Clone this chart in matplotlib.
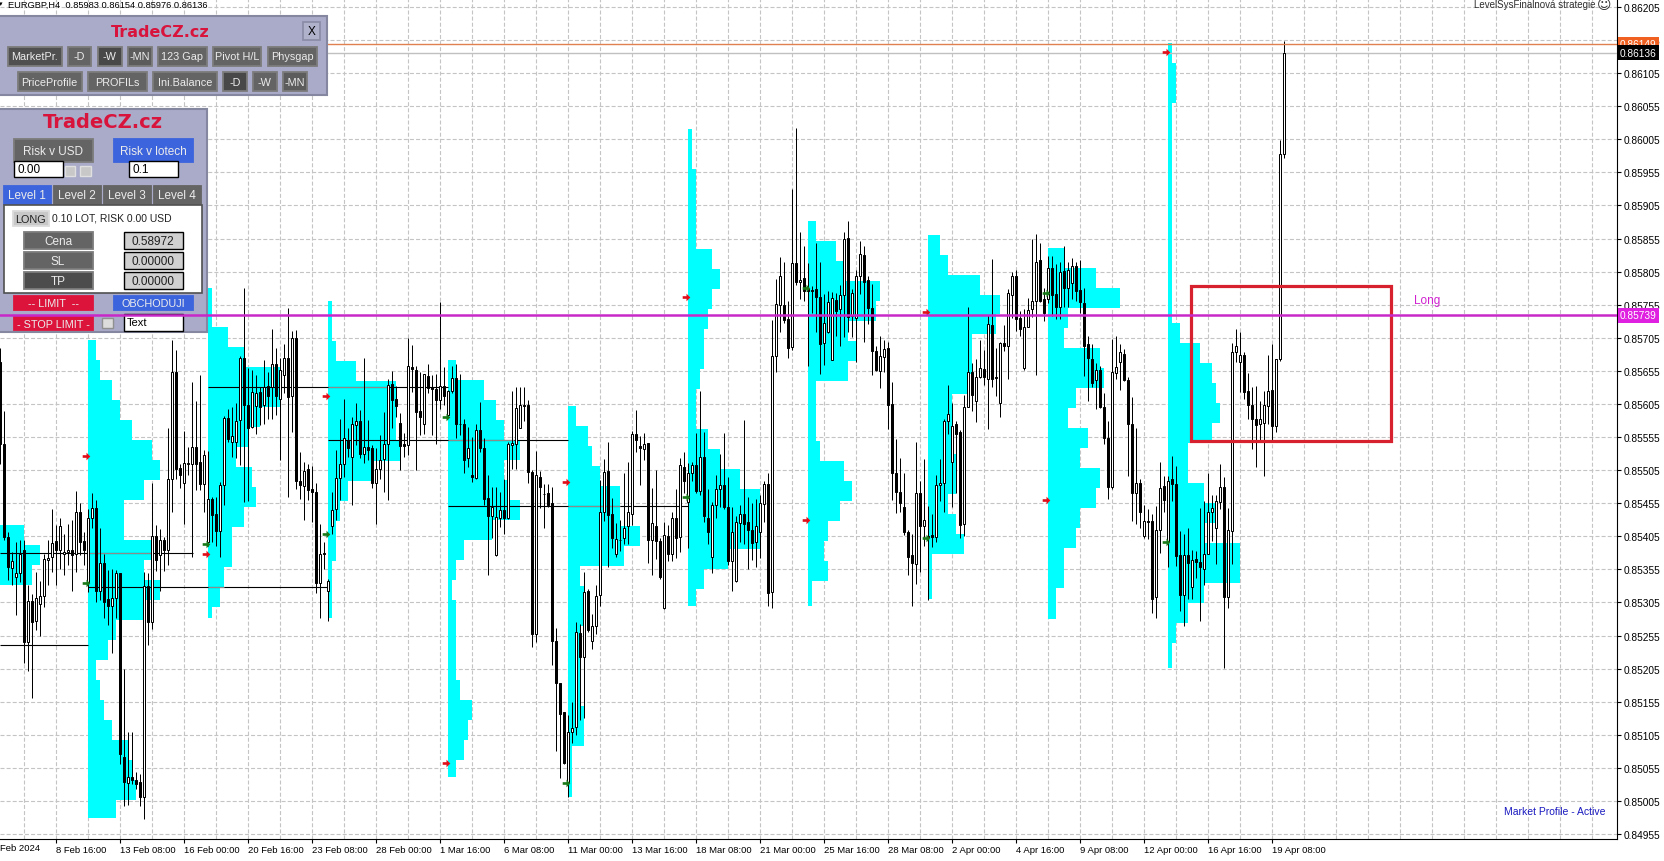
import numpy as np
import matplotlib
matplotlib.use("Agg")
import matplotlib.pyplot as plt
from matplotlib.markers import MarkerStyle
from matplotlib.path import Path
from matplotlib.patches import Rectangle
from matplotlib.transforms import Affine2D

plt.rcParams['font.family'] = ['Liberation Sans', 'DejaVu Sans']

# EURGBP H4 candles, in points above 0.85000, one value per bar
opens = [
    668,544,404,357,344,349,384,246,307,277, 302,315,369,374,398,385,378,382,384,378,
    442,398,336,433,448,323,364,310,299,312, 350,72,32,41,36,33,11,330,276,406,
    376,399,384,492,654,508,486,515,515,540, 517,484,397,462,438,413,483,584,548,548,
    581,674,604,570,602,623,604,632,631,665, 612,649,674,617,705,489,481,506,477,472,
    335,380,323,421,446,493,514,550,525,573, 580,529,540,538,486,506,522,544,635,612,
    576,544,543,661,657,595,574,648,631,628, 611,632,588,624,644,575,575,524,498,493,
    566,538,463,435,376,433,444,432,543,544, 569,604,604,502,257,495,469,471,455,247,
    184,140,34,110,117,259,223,323,247,270, 316,442,503,438,379,399,403,420,439,559,
    542,537,546,399,421,398,296,406,379,432, 404,510,457,501,513,473,525,433,374,452,
    476,482,450,368,338,425,439,426,415,396, 412,454,484,321,678,755,754,734,691,818,
    789,795,778,777,779,766,697,713,672,762, 748,769,856,738,735,799,830,793,750,685,
    655,676,689,605,501,472,449,412,376,363, 471,421,406,407,404,482,485,580,518,575,
    562,424,601,654,609,645,658,643,724,645, 607,697,692,770,799,735,660,722,749,760,
    823,763,763,811,771,752,806,781,788,813, 777,758,695,673,641,657,601,553,479,652,
    669,681,641,575,470,486,405,428,428,313, 415,481,398,491,484,376,316,376,329,370,
    366,356,379,441,418,457,480,313,413,684, 669,679,624,604,582,574,576,602,626,571,
    673,983]
highs = [
    689,595,412,381,397,399,399,331,318,351, 337,379,399,447,422,433,409,424,429,474,
    456,412,447,470,460,418,379,354,356,354, 350,205,109,109,49,46,351,349,486,422,
    416,404,568,702,686,515,564,540,638,610, 649,535,534,465,465,487,587,598,601,606,
    678,781,659,656,649,631,671,654,718,689, 674,696,750,715,717,533,517,515,511,486,
    424,397,341,472,535,582,613,569,586,607, 596,674,581,543,538,558,593,643,655,632,
    591,561,704,694,663,653,651,665,649,651, 759,661,626,663,666,651,583,570,555,575,
    608,554,497,480,480,472,492,548,624,631, 631,631,611,505,534,504,484,484,480,267,
    184,140,135,155,275,273,351,326,288,332, 490,522,548,463,425,430,500,517,564,596,
    556,561,546,478,505,403,427,422,441,477, 523,533,516,517,561,625,563,477,457,497,
    530,561,495,450,435,452,581,465,455,462, 467,489,500,732,794,827,820,760,930,1022,
    865,843,818,784,848,819,771,776,774,773, 785,865,882,779,807,852,844,799,786,693,
    707,701,699,638,552,524,501,414,408,547, 489,522,451,439,498,522,583,633,607,580,
    565,618,751,667,673,701,686,739,824,689, 699,724,779,805,807,746,748,765,855,862,
    848,781,829,828,816,819,844,819,826,819, 823,781,708,695,667,662,622,579,703,707,
    695,688,645,616,568,491,453,446,438,451, 517,496,496,526,511,413,408,417,385,383,
    448,458,500,468,468,514,494,448,697,719, 713,684,652,630,632,610,625,679,695,673,
    1004,1154]
lows = [
    515,400,339,331,286,336,213,201,160,263, 255,298,331,351,331,356,346,361,323,351,
    376,361,321,417,306,308,281,271,228,281, 61,-2,-1,31,23,-2,-22,240,265,352,
    323,352,361,442,492,478,424,497,374,475, 475,442,391,397,391,374,452,548,525,523,
    512,457,458,568,560,573,575,583,583,588, 520,621,465,563,476,461,429,460,426,320,
    282,356,277,408,429,460,495,525,453,543, 523,516,520,478,423,492,472,460,569,586,
    505,525,528,623,505,558,559,621,558,544, 597,603,586,621,553,558,501,509,487,491,
    533,452,346,402,375,419,409,431,506,507, 568,579,485,238,245,448,417,450,211,80,
    39,61,11,92,105,127,130,260,234,257, 299,428,358,388,374,383,393,394,422,533,
    482,520,364,347,371,340,295,368,368,372, 381,471,387,488,471,467,427,394,349,433,
    450,447,362,322,336,396,394,355,369,358, 372,427,300,297,654,713,728,674,687,785,
    764,761,663,743,713,650,664,712,671,707, 692,706,713,706,669,771,699,726,649,655,
    629,654,567,460,440,441,407,347,299,333, 351,391,309,389,397,459,442,560,449,471,
    403,406,600,595,577,644,633,567,630,617, 586,685,643,735,716,707,657,721,736,649,
    759,731,758,738,733,734,751,751,763,761, 743,647,610,630,598,599,544,462,477,642,
    626,640,496,428,423,418,403,401,289,281, 380,441,358,458,360,292,269,310,310,342,
    277,331,378,398,363,446,206,296,363,668, 623,612,582,537,509,551,496,574,549,562,
    670,976]
closes = [
    544,404,359,367,349,379,246,307,276,312, 315,371,372,395,385,421,382,385,376,442,
    397,385,433,448,323,365,306,299,312,350, 76,34,41,37,31,11,330,276,406,369,
    399,385,492,653,506,497,516,516,540,515, 484,528,462,437,413,483,584,552,557,579,
    674,604,569,623,622,601,631,617,666,617, 656,674,616,705,488,483,504,475,472,334,
    379,378,338,445,493,514,554,539,574,579, 530,540,535,485,507,521,544,633,611,602,
    541,541,663,658,593,586,650,629,627,611, 632,617,624,644,574,574,520,538,494,566,
    539,461,435,449,434,444,432,545,546,599, 603,602,502,258,497,479,469,453,247,183,
    137,62,110,115,261,223,321,263,270,315, 442,502,437,403,401,400,418,441,559,551,
    539,544,399,425,398,343,407,379,433,403, 512,488,501,513,473,525,435,412,452,476,
    482,450,368,412,427,439,423,414,395,421, 455,484,320,678,756,798,732,689,818,789,
    793,775,775,775,766,695,727,759,765,745, 770,855,736,773,799,832,790,750,685,657,
    677,688,604,501,472,456,411,373,364,471, 420,429,404,404,482,485,580,590,572,560,
    422,601,654,619,645,659,645,726,642,644, 697,693,773,799,734,718,722,747,761,820,
    761,742,811,770,751,805,781,808,813,776, 759,693,674,637,657,600,553,479,654,661,
    683,641,575,471,486,442,428,427,310,414, 478,460,489,484,375,316,376,365,369,366,
    358,379,441,448,458,480,313,414,684,692, 679,623,603,582,573,583,603,624,571,673,
    983,1136]

# market profiles: first bar of each, top and bottom in points, row lengths in bars
pr_start = [0, 22, 52, 82, 112, 142, 172, 202, 232, 262, 292]
pr_top = [422, 701, 781, 761, 671, 602, 1020, 881, 861, 840, 1150]
pr_low = [332, -20, 281, 281, 41, 11, 300, 300, 310, 280, 206]
pr_rows = [
    [6, 10, 8],
    [2, 3, 6, 8, 11, 16, 18, 14, 9, 9, 16, 14, 18, 14, 7, 5, 2, 3, 4, 6, 10, 11, 12, 7],
    [1, 1, 5, 9, 18, 18, 13, 10, 7, 11, 12, 9, 6, 6, 4, 3, 1],
    [1, 1, 2, 7, 17, 17, 17, 18, 11, 5, 3, 2, 2, 1, 1, 1],
    [2, 9, 12, 14, 18, 14, 15, 18, 11, 4, 2, 1, 2, 2, 2, 2, 3, 6, 5, 4, 2],
    [2, 5, 6, 8, 13, 13, 18, 14, 3, 4, 4, 3, 3, 3, 3, 4, 4, 1, 1, 1],
    [1, 1, 2, 2, 2, 2, 6, 8, 6, 5, 4, 4, 3, 2, 2, 5, 8, 13, 18, 18, 18, 10, 4, 2],
    [2, 7, 9, 18, 17, 10, 12, 10, 2, 2, 2, 3, 9, 11, 8, 5, 4, 5, 1, 1],
    [3, 5, 13, 18, 17, 11, 11, 10, 6, 6, 6, 7, 7, 5, 7, 9, 1, 1, 1],
    [4, 12, 18, 5, 4, 13, 14, 7, 5, 10, 8, 13, 12, 8, 7, 4, 4, 2, 2],
    [1, 2, 2, 1, 1, 1, 1, 1, 1, 1, 1, 1, 1, 1, 3, 8, 11, 12, 13, 11, 5, 5, 9, 12, 9, 18, 18, 9, 5, 2, 1, 1],
]

# naked point of control lines: level, first bar, last bar
poc_level = [380, 241, 329, 631, 551, 451]
poc_from = [0, 0, 22, 52, 82, 112]
poc_to = [48.25, 22, 82, 112, 142, 172]
# the stretch where each line runs over the next profile shows grey
poc_grey_level = [380, 329, 631, 551, 451]
poc_grey_from = [22, 52, 82, 112, 142]
poc_grey_to = [38, 56, 97, 128.6, 155]

# arrows sit just left of each profile
red_x = [21.4, 51.4, 81.4, 111.4, 141.4, 171.4, 201.4, 231.4, 261.4, 291.4]
red_y = [527, 379, 617, 62, 487, 767, 429, 744, 460, 1137]
green_x = [21.4, 51.4, 81.4, 111.4, 141.4, 171.4, 201.4, 231.4, 261.4, 291.4]
green_y = [334, 393, 408, 585, 32, 464, 781, 403, 772, 397]

time_labels = ['8 Feb 16:00', '13 Feb 08:00', '16 Feb 00:00', '20 Feb 16:00', '23 Feb 08:00',
               '28 Feb 00:00', '1 Mar 16:00', '6 Mar 08:00', '11 Mar 00:00', '13 Mar 16:00',
               '18 Mar 08:00', '21 Mar 00:00', '25 Mar 16:00', '28 Mar 08:00', '2 Apr 00:00',
               '4 Apr 16:00', '9 Apr 08:00', '12 Apr 00:00', '16 Apr 16:00', '19 Apr 08:00']
price_ticks = [0.86205 - 0.0005 * i for i in range(26)]

entry_price = 0.85739
last_price = 0.86136
ask_price = 0.86149
box_bars = [297.7, 347.65]
box_prices = [0.85549, 0.85784]


def price(pts):
    return 0.85 + np.asarray(pts) / 1e5


fig = plt.figure(figsize=(16.64, 8.62), dpi=100, facecolor='white')
ax = fig.add_axes([0, 22.5 / 862, 1617 / 1664, 839.5 / 862])
ax.set_xlim(0, 1617 / 4)
ax.set_ylim(0.849483, 0.86217)
ax.set_axisbelow(True)
ax.spines['top'].set_visible(False)
ax.spines['left'].set_visible(False)

# pixel coordinates for the panels, y going down
px = Affine2D().scale(1, -1).translate(0, 862)

ax.set_xticks([14 + 16 * i for i in range(20)])
ax.set_xticklabels(time_labels, ha='left', fontsize=6.8)
ax.set_xticks([6 + 8 * i for i in range(50)], minor=True)
ax.yaxis.tick_right()
ax.set_yticks(price_ticks)
ax.set_yticklabels(['%.5f' % p for p in price_ticks], fontsize=7.3)
ax.tick_params(axis='x', which='major', length=3, width=0.8, pad=2)
ax.tick_params(axis='x', which='minor', length=0)
ax.tick_params(axis='y', length=3, width=0.8, pad=2)
ax.grid(True, which='both', color='#c4c4c4', linewidth=0.8, linestyle=(0, (3.6, 1.9)))

# market profile rows
for start, top, low, rows in zip(pr_start, pr_top, pr_low, pr_rows):
    for i, w in enumerate(rows):
        y1 = top - 30.2 * i
        y0 = max(y1 - 30.2, low)
        ax.barh(price(y0), w, height=price(y1) - price(y0), left=start, align='edge',
                color='#00ffff', linewidth=0, zorder=2)

ax.hlines(price(poc_level), poc_from, poc_to, color='black', linewidth=0.8, zorder=3)
ax.hlines(price(poc_grey_level), poc_grey_from, poc_grey_to, color='#8c8c8c', linewidth=0.8, zorder=3.1)

# candles
o = np.array(opens)
h = np.array(highs)
l = np.array(lows)
c = np.array(closes)
bars = np.arange(len(o)) + 0.08
wicks = ax.vlines(bars, price(l), price(h), color='black', linewidth=0.72, zorder=4)
wicks.set_snap(True)
up = c >= o
ax.bar(bars[up], price(c[up]) - price(o[up]), bottom=price(o[up]), width=0.5,
       facecolor='white', edgecolor='black', linewidth=0.72, zorder=5)
ax.bar(bars[~up], price(o[~up]) - price(c[~up]), bottom=price(c[~up]), width=0.5,
       facecolor='black', edgecolor='black', linewidth=0.72, zorder=5)

arrow = Path([(-1, -0.35), (0, -0.35), (0, -1), (1, 0), (0, 1), (0, 0.35), (-1, 0.35), (-1, -0.35)], closed=True)
ax.scatter(red_x, price(red_y), marker=MarkerStyle(arrow), s=30, color='#e0101a', linewidths=0, zorder=6)
ax.scatter(green_x, price(green_y), marker=MarkerStyle(arrow), s=30, color='#1a7a1a', linewidths=0, zorder=6)

# levels
ax.axhline(ask_price, color='#e08050', linewidth=1, zorder=4)
ax.axhline(last_price, color='#c0c0c0', linewidth=1, zorder=4)
ax.axhline(entry_price, color='#c828c8', linewidth=1.8, zorder=30)
ax.add_patch(Rectangle((box_bars[0], box_prices[0]), box_bars[1] - box_bars[0], box_prices[1] - box_prices[0],
                       fill=False, edgecolor='#d8212f', linewidth=2.3, zorder=7))
ax.text(356.8, 0.85739 + 0.00023, 'Long', color='#d020d0', fontsize=8.5, ha='center', va='center', zorder=7)

ytag = ax.get_yaxis_transform()
for val, fc, z in [(ask_price, '#f06020', 40), (last_price, 'black', 41), (entry_price, '#e020e0', 41)]:
    ax.text(1.0019, val, '%.5f' % val, transform=ytag, color='white', fontsize=7.3, va='center', ha='left',
            clip_on=False, zorder=z,
            bbox=dict(boxstyle='square,pad=0.22', facecolor=fc, edgecolor='none'))


def pt(x, y, s, **kw):
    kw.setdefault('ha', 'center')
    kw.setdefault('va', 'center')
    kw.setdefault('fontsize', 7.8)
    kw.setdefault('color', '#ececec')
    ax.text(x, y, s, transform=px, clip_on=False, zorder=25, **kw)


def box(x0, y0, x1, y1, fc, ec='none', lw=1.0):
    ax.add_patch(Rectangle((x0, y0), x1 - x0, y1 - y0, transform=px, facecolor=fc, edgecolor=ec,
                           linewidth=lw, clip_on=False, zorder=22))


def button(x0, y0, x1, y1, s, fc='#646464', ec='#7c7c7c', **kw):
    box(x0, y0, x1, y1, fc, ec, 1.3)
    pt((x0 + x1) / 2, (y0 + y1) / 2 + 0.5, s, **kw)


pt(8, 5, 'EURGBP,H4  0.85983 0.86154 0.85976 0.86136', ha='left', color='black', fontsize=6.7)
pt(1, 5, '\u25be', color='black', fontsize=5)
pt(1595, 5.5, 'LevelSysFinalnov\u00e1 strategie', ha='right', color='#303030', fontsize=7)
pt(1604, 5, '\u263a', color='#303030', fontsize=10, family='DejaVu Sans')
pt(1606, 812.5, 'Market Profile - Active', ha='right', color='#1a1ac0', fontsize=7.5)
pt(0, 849, 'Feb 2024', ha='left', color='black', fontsize=6.8)

# top panel
box(-2, 17, 327, 96, '#a9abc9', '#85869f', 1.5)
pt(160.7, 33, 'TradeCZ.cz', color='#d8143c', fontsize=11.5, fontweight='bold', family='DejaVu Sans')
button(302.5, 23, 320, 40.5, 'X', fc='#b0b2cc', ec='#8c8ea8', color='black', fontsize=8.5)
row1 = [(7.5, 61.5, 'MarketPr.', '#505050'), (68, 90.5, '-D', '#646464'), (97.5, 121.5, '-W', '#484848'),
        (128, 151.5, '-MN', '#5c5c5c'), (158, 206.5, '123 Gap', '#646464'), (212.5, 261, 'Pivot H/L', '#646464'),
        (267.5, 316.5, 'Physgap', '#646464')]
for x0, x1, s, fc in row1:
    button(x0, 47.5, x1, 66.5, s, fc=fc)
row2 = [(17.5, 81.5, 'PriceProfile', '#646464'), (88, 146.5, 'PROFILs', '#646464'), (153, 216.5, 'Ini.Balance', '#646464'),
        (223, 246.5, '-D', '#484848'), (253, 276.5, '-W', '#646464'), (283, 306.5, '-MN', '#5c5c5c')]
for x0, x1, s, fc in row2:
    button(x0, 73, x1, 92, s, fc=fc)

# order panel
box(-2, 110, 207, 333, '#a9abc9', '#85869f', 1.5)
pt(103, 123, 'TradeCZ.cz', color='#d8143c', fontsize=14, fontweight='bold', family='DejaVu Sans')
button(13.5, 140, 92.5, 163, 'Risk v USD', fontsize=8.5)
button(113.5, 140, 192.5, 163, 'Risk v lotech', fc='#3c64dc', ec='#3c64dc', fontsize=8.5)
box(13.5, 162, 62.5, 178, 'white', 'black')
pt(17, 170.5, '0.00', ha='left', color='black', fontsize=8.5)
box(65, 167, 75, 177, '#c8c8c8', '#e0e0e0')
box(80, 167, 90.5, 177, '#c8c8c8', '#e0e0e0')
box(128.5, 162, 177.5, 178, 'white', 'black')
pt(132.5, 170.5, '0.1', ha='left', color='black', fontsize=8.5)
tabs = [(4, 50.5, 'Level 1', '#3c64dc'), (54, 100.5, 'Level 2', '#646464'),
        (103.5, 150.5, 'Level 3', '#646464'), (153.5, 200.5, 'Level 4', '#646464')]
for x0, x1, s, fc in tabs:
    button(x0, 187, x1, 205, s, fc=fc, ec=fc, fontsize=8.5)
box(4, 206, 201.5, 294, 'white', '#505050', 1.2)
button(12.5, 212, 48.5, 226.5, 'LONG', fc='#c8c8c8', ec='#dcdcdc', color='#202020')
pt(52.5, 219, '0.10 LOT, RISK 0.00 USD', ha='left', color='#202020', fontsize=7.5)
fields = [(233, 250, 'Cena', '0.58972', '#646464'), (253, 270, 'SL', '0.00000', '#646464'),
          (273, 290, 'TP', '0.00000', '#4c4c4c')]
for y0, y1, s, val, fc in fields:
    button(23.5, y0, 92.5, y1, s, fc=fc, fontsize=8.5)
    box(123.5, y0, 182.5, y1, '#d0d0d0', 'black')
    pt(153, (y0 + y1) / 2 + 0.5, val, color='#202020', fontsize=8.5)
button(13.5, 297, 92.5, 310.5, '-- LIMIT  --', fc='#dc143c', ec='#dc143c')
button(113.5, 297, 192.5, 310.5, 'OBCHODUJI', fc='#3c64dc', ec='#3c64dc')
button(13.5, 317.5, 92.5, 331, '- STOP LIMIT -', fc='#dc143c', ec='#dc143c')
box(102, 318.5, 112.5, 329, '#dcdcdc', '#909090')
box(123.5, 315, 182.5, 331.5, 'white', 'black')
pt(127, 323.5, 'Text', ha='left', color='black', fontsize=8)

fig.savefig('out.png', dpi=100)
